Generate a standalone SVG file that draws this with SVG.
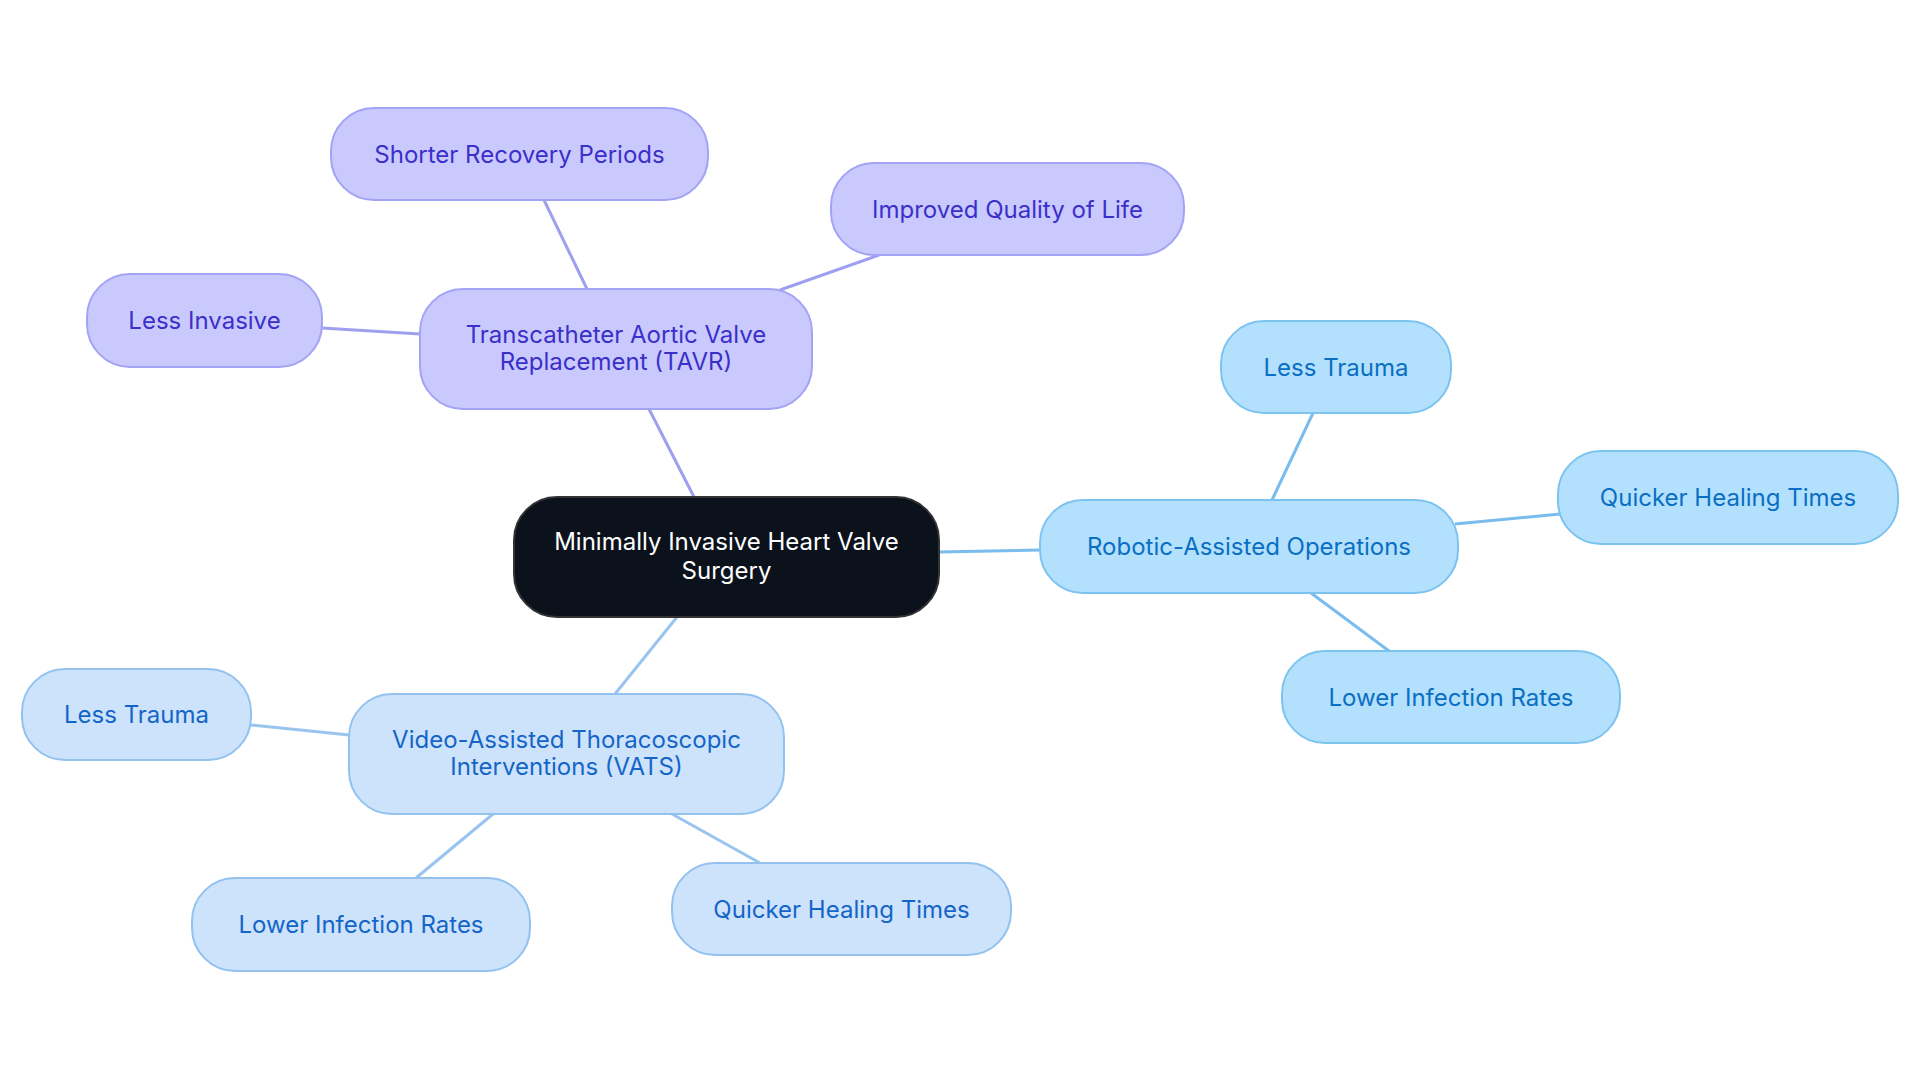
<svg xmlns="http://www.w3.org/2000/svg" width="1920" height="1083" viewBox="0 0 1920 1083">
<style>
text{font-family:Inter,"Noto Sans","Liberation Sans",sans-serif;font-size:24px;text-anchor:middle;dominant-baseline:central}
.p rect{fill:#c9c9fd;stroke:#a3a3f5;stroke-width:2}.p text{fill:#3b2fc9}
.r rect{fill:#b3e0fd;stroke:#7cc3f0;stroke-width:2}.r text{fill:#0a6fc2}
.v rect{fill:#cce3fb;stroke:#93c2ef;stroke-width:2}.v text{fill:#1565c8}
#edges line{stroke-width:3;fill:none}
.ep{stroke:#9f9ff0}.er{stroke:#7abcee}.ev{stroke:#99c4f0}
</style>
<rect width="1920" height="1083" fill="#fff"/>
<g id="edges">
<line class="ep" x1="694" y1="497" x2="649" y2="409"/>
<line class="ep" x1="587" y1="289" x2="544" y2="200"/>
<line class="ep" x1="780" y1="290" x2="879" y2="255"/>
<line class="ep" x1="420" y1="334" x2="322" y2="328"/>
<line class="er" x1="939" y1="552" x2="1040" y2="550"/>
<line class="er" x1="1272" y1="500" x2="1313" y2="413"/>
<line class="er" x1="1455" y1="524" x2="1560" y2="514"/>
<line class="er" x1="1311" y1="593" x2="1389" y2="651"/>
<line class="ev" x1="677" y1="617" x2="615" y2="694"/>
<line class="ev" x1="349" y1="735" x2="251" y2="725"/>
<line class="ev" x1="493" y1="814" x2="416" y2="878"/>
<line class="ev" x1="672" y1="814" x2="760" y2="863"/>
</g>
<g id="center"><rect x="514" y="497" width="425" height="120" rx="43" fill="#0b121c" stroke="#333" stroke-width="2"/><text x="726.5" y="541" fill="#fff">Minimally Invasive Heart Valve</text><text x="726.5" y="570" fill="#fff">Surgery</text></g>
<g id="tavr" class="p"><rect x="420" y="289" width="392" height="120" rx="43"/><text x="616" y="334">Transcatheter Aortic Valve</text><text x="616" y="361">Replacement (TAVR)</text></g>
<g id="shorter" class="p"><rect x="331" y="108" width="377" height="92" rx="43"/><text x="519.5" y="154">Shorter Recovery Periods</text></g>
<g id="qol" class="p"><rect x="831" y="163" width="353" height="92" rx="43"/><text x="1007.5" y="209">Improved Quality of Life</text></g>
<g id="lessinv" class="p"><rect x="87" y="274" width="235" height="93" rx="43"/><text x="204.5" y="320">Less Invasive</text></g>
<g id="robotic" class="r"><rect x="1040" y="500" width="418" height="93" rx="43"/><text x="1249" y="546">Robotic-Assisted Operations</text></g>
<g id="rtrauma" class="r"><rect x="1221" y="321" width="230" height="92" rx="43"/><text x="1336" y="367">Less Trauma</text></g>
<g id="rquick" class="r"><rect x="1558" y="451" width="340" height="93" rx="43"/><text x="1728" y="497">Quicker Healing Times</text></g>
<g id="rinf" class="r"><rect x="1282" y="651" width="338" height="92" rx="43"/><text x="1451" y="697">Lower Infection Rates</text></g>
<g id="vats" class="v"><rect x="349" y="694" width="435" height="120" rx="43"/><text x="566.5" y="739">Video-Assisted Thoracoscopic</text><text x="566.5" y="766">Interventions (VATS)</text></g>
<g id="vtrauma" class="v"><rect x="22" y="669" width="229" height="91" rx="43"/><text x="136.5" y="714">Less Trauma</text></g>
<g id="vinf" class="v"><rect x="192" y="878" width="338" height="93" rx="43"/><text x="361" y="924">Lower Infection Rates</text></g>
<g id="vquick" class="v"><rect x="672" y="863" width="339" height="92" rx="43"/><text x="841.5" y="909">Quicker Healing Times</text></g>
</svg>
